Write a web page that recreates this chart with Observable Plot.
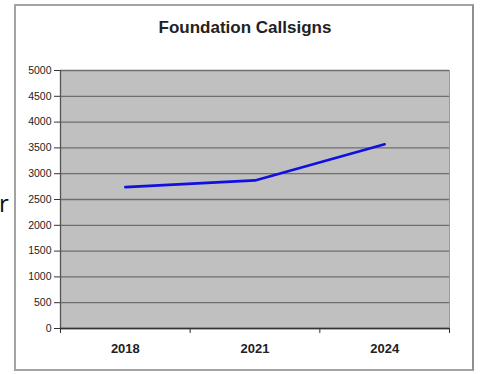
<!DOCTYPE html>
<html>
<head>
<meta charset="utf-8">
<script src="https://cdn.jsdelivr.net/npm/d3@7"></script>
<script src="https://cdn.jsdelivr.net/npm/@observablehq/plot@0.6"></script>
<style>
  html, body { margin: 0; padding: 0; background: #fff; width: 481px; height: 374px; overflow: hidden; }
  #stray { position: absolute; left: -1px; top: 186px; font-family: "Open Sans", sans-serif; font-size: 24px; color: #111; }
  #frame { position: absolute; left: 14px; top: 4px; width: 460px; height: 367px; border: 2px solid #a3a3a3; border-right-color: #8f8f8f; box-sizing: border-box; background: #fff; }
  #title { position: absolute; left: 14px; top: 18px; width: 462px; text-align: center; font-family: "Liberation Sans", Arial, sans-serif; font-weight: bold; font-size: 17px; color: #222; }
  #chart { position: absolute; left: 16px; top: 50px; }
</style>
</head>
<body>
<div id="stray">r</div>
<div id="frame"></div>
<div id="title">Foundation Callsigns</div>
<div id="chart"></div>
<script>
const years = ["2018", "2021", "2024"];
const callsigns = [2740, 2870, 3570];
const yTicks = [0, 500, 1000, 1500, 2000, 2500, 3000, 3500, 4000, 4500, 5000];

const data = years.map((y, i) => ({pos: i + 0.5, year: y, value: callsigns[i]}));

const chart = Plot.plot({
  width: 450,
  height: 310,
  marginLeft: 44,
  marginRight: 17,
  marginTop: 20,
  marginBottom: 32,
  style: {fontFamily: "'Liberation Sans', Arial, sans-serif", background: "transparent", overflow: "visible"},
  x: {type: "linear", domain: [0, years.length], label: null},
  y: {domain: [0, 5000], label: null},
  marks: [
    Plot.frame({fill: "#c0c0c0", stroke: "none"}),
    Plot.gridY(yTicks, {stroke: "#6e6e6e", strokeOpacity: 1, strokeWidth: 1.3}),
    Plot.ruleX([0], {stroke: "#555", strokeWidth: 1.3}),
    Plot.ruleX([years.length], {stroke: "#9a9a9a", strokeWidth: 1}),
    Plot.ruleY([0], {stroke: "#333", strokeWidth: 1.3}),
    Plot.axisY(yTicks, {label: null, tickSize: 6, tickPadding: 3, fontSize: 10.5, fill: "#222", stroke: "#333", tickFormat: d => String(d)}),
    Plot.axisX(d3.range(years.length + 1), {label: null, tickSize: 5, tickFormat: () => "", stroke: "#333"}),
    Plot.axisX(data.map(d => d.pos), {label: null, tickSize: 0, tickPadding: 15, fontSize: 13, fontWeight: "bold", fill: "#222", tickFormat: p => years[Math.floor(p)]}),
    Plot.line(data, {x: "pos", y: "value", stroke: "#1010e0", strokeWidth: 2.6})
  ]
});
document.getElementById("chart").append(chart);
</script>
</body>
</html>
